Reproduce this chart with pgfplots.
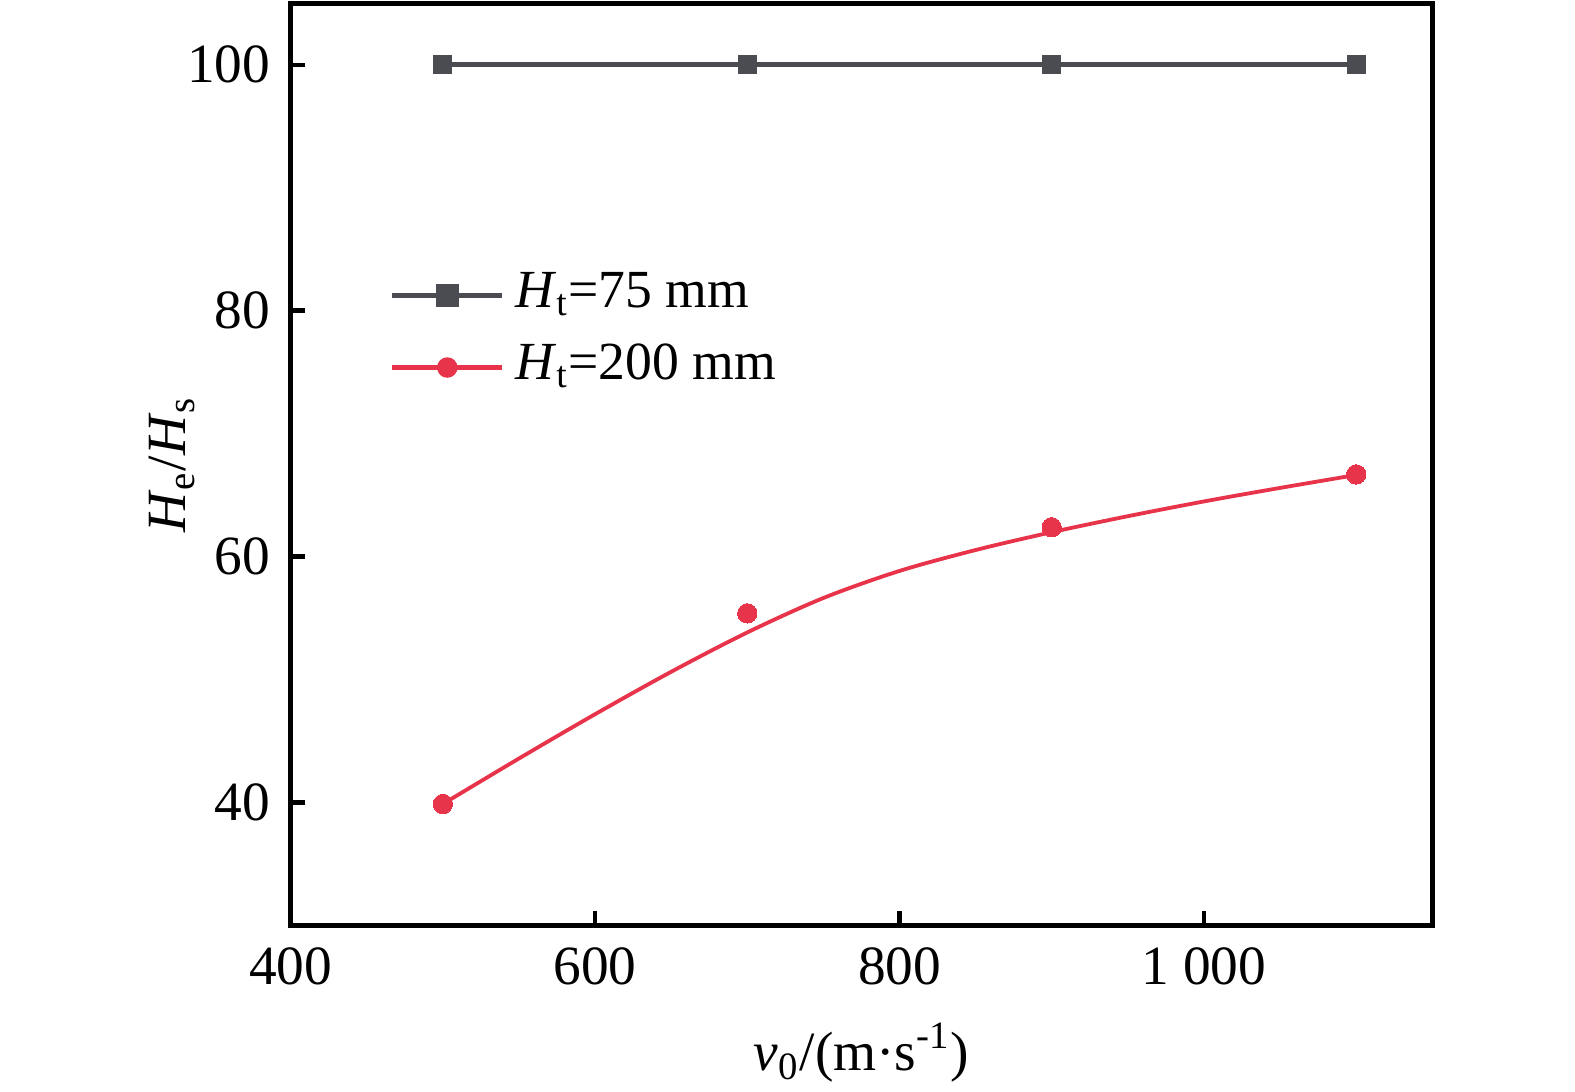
\documentclass[border=0pt]{standalone}
\usepackage{pgfplots}
\pgfplotsset{compat=1.18}
\usepackage{fontspec}
\setmainfont{Liberation Serif}
\usetikzlibrary{calc}
\definecolor{cgray}{HTML}{4B4C52}
\definecolor{cred}{HTML}{E8344A}
\begin{document}
\begin{tikzpicture}
\begin{axis}[
  scale only axis,
  width=11.598cm, height=9.371cm,
  xmin=400, xmax=1150, ymin=30, ymax=105,
  xtick={400,600,800,1000},
  xticklabels={400,600,800,{1 000}},
  ytick={40,60,80,100},
  tick pos=left,
  tick align=inside,
  major tick length=0.15cm,
  axis line style={line width=1.35pt, black},
  every tick/.style={line width=1.35pt, black},
  /pgf/number format/assume math mode=true,
  tick label style={font=\fontsize{16}{19}\selectfont},
  xticklabel style={yshift=-0.1cm},
  yticklabel style={xshift=-0.085cm},
  label style={font=\fontsize{16}{19}\selectfont},
  xlabel={\textit{v}\textsubscript{0}/(m·s\textsuperscript{-1})},
  ylabel={\textit{H}\textsubscript{e}/\textit{H}\textsubscript{s}},
  xlabel style={at={(axis description cs:0.5,0)}, anchor=center, yshift=-1.29cm},
  ylabel style={at={(axis description cs:-0.104,0.5)}, anchor=center},
  legend style={draw=none, fill=none, inner sep=0pt,
    at={(axis description cs:0.0861,0.6442)}, anchor=west,
    font=\fontsize{15.5}{18}\selectfont,
    row sep=1.8pt,
    nodes={inner sep=1pt, text height=12pt, text depth=5pt}},
  legend cell align=left,
]
\coordinate (sw) at (rel axis cs:0,0);
\coordinate (ne) at (rel axis cs:1,1);
\addplot[cgray, line width=1.45pt, mark=square*, mark size=2.6pt,
  mark options={cgray, fill=cgray, line width=0pt},
  legend image code/.code={
    \draw[cgray, line width=1.45pt] (0cm,0cm) -- (1.117cm,0cm);
    \fill[cgray] (0.47cm,-0.09cm) rectangle (0.65cm,0.09cm);
    \path (1.19cm,0cm);
  }]
  coordinates {(500,100) (700,100) (900,100) (1100,100)};
\addlegendentry{\textit{H}\textsubscript{t}=75 mm}
\addplot[cred, line width=1.1pt, smooth, forget plot]
  coordinates {(500,39.9) (550,43.6) (600,47.2) (650,50.65) (700,53.85)
    (750,56.65) (800,58.85) (850,60.55) (900,62.0) (950,63.3)
    (1000,64.5) (1050,65.6) (1100,66.65)};
\addplot[cred, only marks, mark=*, mark size=2.8pt,
  mark options={cred, fill=cred, line width=0pt},
  legend image code/.code={
    \draw[cred, line width=1.4pt] (0cm,0cm) -- (1.117cm,0cm);
    \fill[cred] (0.56cm,0cm) circle (0.097cm);
    \path (1.19cm,0cm);
  }]
  coordinates {(500,39.9) (700,55.4) (900,62.4) (1100,66.7)};
\addlegendentry{\textit{H}\textsubscript{t}=200 mm}
\end{axis}
\pgfresetboundingbox
\useasboundingbox ($(sw)+(-2.953cm,-1.679cm)$) rectangle ($(ne)+(1.450cm,0.034cm)$);
\end{tikzpicture}
\end{document}
